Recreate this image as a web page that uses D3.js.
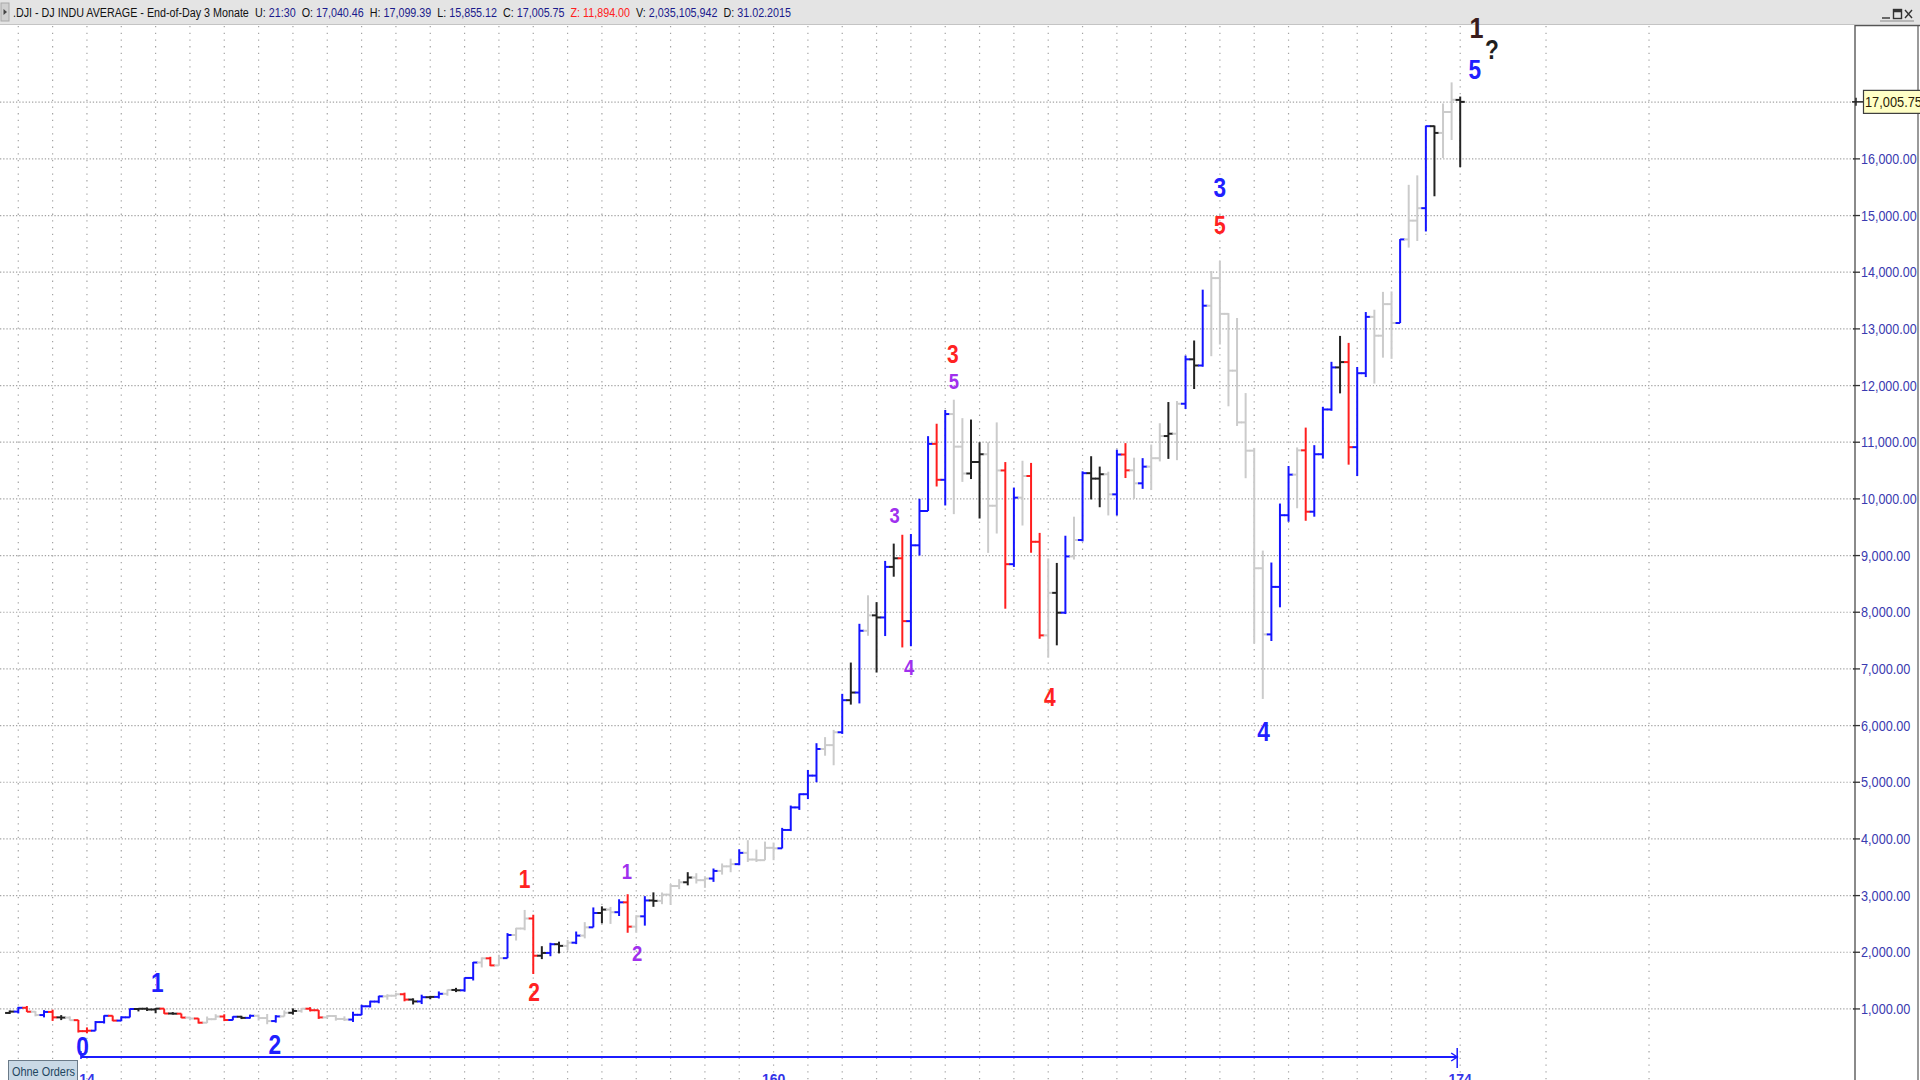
<!DOCTYPE html>
<html>
<head>
<meta charset="utf-8">
<title>.DJI 3 Monate</title>
<script src="https://cdn.jsdelivr.net/npm/d3@7/dist/d3.min.js"></script>
<style>
  html, body { margin: 0; padding: 0; background: #ffffff; overflow: hidden; }
  svg { display: block; }
</style>
</head>
<body>
<div id="chart"></div>
<script>
/** .DJI quarterly bars with wave count *******************/

// First visible bar is Q3 1972, last bar is Q4 2014 (still running)
var firstYear = 1972;
var firstQuarter = 3;

var opens = [
    929, 953, 1020, 951, 892, 947, 851, 847, 802, 608,
    616, 768, 879, 794, 852, 999, 1003, 990, 1005, 919,
    916, 847, 831, 757, 819, 866, 805, 862, 842, 879,
    839, 786, 868, 932, 964, 1004, 977, 850, 875, 823,
    812, 896, 1047, 1130, 1222, 1233, 1259, 1165, 1132, 1207,
    1212, 1267, 1335, 1329, 1547, 1819, 1893, 1768, 1896, 2305,
    2419, 2596, 1939, 1988, 2142, 2113, 2169, 2294, 2440, 2693,
    2753, 2707, 2881, 2452, 2634, 2914, 2907, 3017, 3169, 3235,
    3319, 3272, 3301, 3435, 3516, 3555, 3754, 3636, 3625, 3843,
    3834, 4158, 4556, 4789, 5117, 5587, 5655, 5882, 6448, 6583,
    7673, 7945, 7908, 8800, 8952, 7843, 9181, 9786, 10971, 10337,
    11497, 10922, 10448, 10651, 10788, 9879, 10502, 8848, 10022, 10404,
    9243, 7592, 8342, 7992, 8985, 9275, 10454, 10358, 10435, 10080,
    10783, 10504, 10275, 10569, 10718, 11109, 11150, 11679, 12463, 12354,
    13409, 13896, 13265, 12263, 11350, 10851, 8776, 7609, 8447, 9712,
    10428, 10857, 9774, 10788, 11578, 12320, 12414, 10913, 12218, 13212,
    12880, 13437, 13104, 14579, 14910, 15130, 16577, 16458, 16827, 17040.46
];
var highs = [
    973, 1036, 1052, 961, 978, 987, 891, 869, 806, 674,
    786, 888, 882, 870, 1009, 1016, 1026, 1015, 1005, 944,
    918, 862, 835, 866, 907, 906, 870, 879, 900, 900,
    911, 890, 975, 1010, 1016, 1031, 980, 892, 891, 869,
    951, 1073, 1145, 1232, 1260, 1287, 1287, 1187, 1251, 1230,
    1309, 1341, 1372, 1553, 1829, 1911, 1920, 1956, 2338, 2431,
    2747, 2662, 2107, 2167, 2187, 2218, 2366, 2531, 2791, 2810,
    2800, 2935, 3024, 2654, 2990, 3057, 3055, 3204, 3290, 3413,
    3395, 3341, 3478, 3567, 3652, 3818, 3978, 3811, 3953, 3936,
    4195, 4589, 4801, 5216, 5689, 5796, 5924, 6560, 7112, 7796,
    8299, 8178, 8906, 9211, 9367, 9380, 10002, 11107, 11326, 11569,
    11750, 11425, 11400, 11000, 11000, 11350, 10650, 10200, 10673, 10635,
    9400, 8950, 8870, 9350, 9686, 10487, 10753, 10570, 10480, 10868,
    10984, 10727, 10719, 10959, 11335, 11709, 11727, 12529, 12795, 13692,
    14021, 14198, 13279, 13192, 11867, 10900, 9088, 8877, 9918, 10580,
    10908, 11258, 10948, 11625, 12419, 12876, 12753, 12328, 13297, 13338,
    13653, 13661, 14585, 15542, 15709, 16588, 16588, 16978, 17350, 17099.39
];
var lows = [
    910, 921, 947, 869, 851, 788, 803, 795, 584, 570,
    616, 743, 784, 784, 850, 956, 964, 924, 913, 900,
    838, 800, 742, 750, 805, 785, 800, 821, 830, 796,
    730, 759, 866, 899, 934, 956, 824, 836, 793, 788,
    770, 891, 1027, 1100, 1163, 1220, 1134, 1079, 1086, 1171,
    1184, 1232, 1297, 1306, 1502, 1732, 1755, 1763, 1896, 2207,
    2388, 1616, 1879, 1930, 1980, 2038, 2144, 2245, 2440, 2510,
    2500, 2640, 2344, 2344, 2470, 2802, 2848, 2836, 3114, 3181,
    3213, 3136, 3242, 3370, 3412, 3536, 3593, 3593, 3624, 3625,
    3832, 4138, 4512, 4703, 5000, 5468, 5300, 5853, 6370, 6391,
    7585, 6936, 7580, 8627, 7379, 7400, 9000, 9786, 10219, 9884,
    9731, 10300, 10350, 9654, 9047, 9389, 8062, 8800, 9530, 9050,
    7532, 7197, 7416, 7968, 8930, 9250, 9990, 9853, 9708, 9708,
    10368, 10000, 10177, 10156, 10661, 10706, 10683, 11587, 11939, 12332,
    12518, 12724, 11634, 11287, 10365, 7449, 6470, 7492, 8087, 9597,
    9835, 9614, 9686, 10711, 11555, 11862, 10604, 10404, 12150, 12035,
    12492, 12471, 13104, 14434, 14551, 14719, 15340, 16015, 16333, 15855.12
];
var closes = [
    953, 1020, 951, 892, 947, 851, 847, 802, 608, 616,
    768, 879, 794, 852, 999, 1003, 990, 1005, 919, 916,
    847, 831, 757, 819, 866, 805, 862, 842, 879, 839,
    786, 868, 932, 964, 1004, 977, 850, 875, 823, 812,
    896, 1047, 1130, 1222, 1233, 1259, 1165, 1132, 1207, 1212,
    1267, 1335, 1329, 1547, 1819, 1893, 1768, 1896, 2305, 2419,
    2596, 1939, 1988, 2142, 2113, 2169, 2294, 2440, 2693, 2753,
    2707, 2881, 2452, 2634, 2914, 2907, 3017, 3169, 3235, 3319,
    3272, 3301, 3435, 3516, 3555, 3754, 3636, 3625, 3843, 3834,
    4158, 4556, 4789, 5117, 5587, 5655, 5882, 6448, 6583, 7673,
    7945, 7908, 8800, 8952, 7843, 9181, 9786, 10971, 10337, 11497,
    10922, 10448, 10651, 10788, 9879, 10502, 8848, 10022, 10404, 9243,
    7592, 8342, 7992, 8985, 9275, 10454, 10358, 10435, 10080, 10783,
    10504, 10275, 10569, 10718, 11109, 11150, 11679, 12463, 12354, 13409,
    13896, 13265, 12263, 11350, 10851, 8776, 7609, 8447, 9712, 10428,
    10857, 9774, 10788, 11578, 12320, 12414, 10913, 12218, 13212, 12880,
    13437, 13104, 14579, 14910, 15130, 16577, 16458, 16827, 17043, 17005.75
];
// B = blue, R = red, K = black, G = grey (one letter per bar)
var barColors = (
    "KBRGBRKGRR" + "BBRBBKKKRK" + "RGRGGRBKBG" + "GBGKGRRGGG" +
    "BBBBGGRKBK" + "BGKBBGRGBG" + "GRKBKGBGBK" + "GBRGBKGGGK" +
    "GGBGGBGGGG" + "BBBBBGGBKB" + "GKBKRBBBRB" + "GGKKGGRBGR" +
    "RGKBGBKKGB" + "RGBGGKGBKB" + "GGGGGGGBBB" + "GRBBBKRBBG" +
    "GGBGGBKGGK"
).split("");

// Price axis
var yTicks = [1000, 2000, 3000, 4000, 5000, 6000, 7000, 8000,
              9000, 10000, 11000, 12000, 13000, 14000, 15000, 16000];
var gridValues = yTicks.concat([17000]);
var lastPrice = 17005.75;

// Bar counter of the measuring line (start bar, end bar)
var measureBars = [9, 169];
var measureLabels = ["14", "160", "174"];

// Wave count: text, bar position, price level, degree
var waveText   = ["0", "1", "2", "1", "2", "1", "2", "3", "4", "3", "5", "4", "3", "5", "4", "5", "1", "?"];
var waveBar    = [8.5, 17.2, 30.9, 60.0, 61.1, 71.9, 73.1, 103.1, 104.8, 109.9, 110.0, 121.2, 141.0, 141.0, 146.1, 170.7, 170.9, 172.7];
var waveValue  = [345, 1475, 381, 3293, 1299, 3434, 1987, 9716, 7034, 12552, 12076, 6505, 15504, 14834, 5905, 17587, 18330, 17939];
var waveDegree = ["cycle", "cycle", "cycle", "primary", "primary", "minor", "minor", "minor", "minor", "primary", "minor",
                  "primary", "cycle", "primary", "cycle", "cycle", "super", "mark"];

// Header
var headerParts = [
    [".DJI - DJ INDU AVERAGE - End-of-Day 3 Monate", "k"], ["U:", "k"], ["21:30", "v"],
    ["O:", "k"], ["17,040.46", "v"],
    ["H:", "k"], ["17,099.39", "v"],
    ["L:", "k"], ["15,855.12", "v"],
    ["C:", "k"], ["17,005.75", "v"],
    ["Z:", "z"], ["11,894.00", "z"],
    ["V:", "k"], ["2,035,105,942", "v"],
    ["D:", "k"], ["31.02.2015", "v"]
];

//**************************************************/

var width = 1920;
var height = 1080;
var panelX = 1855;
var tickLen = 4.6;

var colorMap = { B: "#1414ff", R: "#ff1e1e", K: "#232323", G: "#cbcbcb" };
var degreeStyle = {
    cycle:   { color: "#2020ff", size: 27 },
    primary: { color: "#ff2222", size: 25 },
    minor:   { color: "#a030ee", size: 22 },
    super:   { color: "#3a1c1c", size: 30 },
    mark:    { color: "#1e1e1e", size: 27 }
};

var x = d3.scaleLinear().domain([0, closes.length - 1]).range([9.7, 1460.2]);
var y = d3.scaleLinear().domain([0, 17000]).range([1065.6, 102.2]);

var svg = d3.select("#chart").append("svg")
    .attr("width", width)
    .attr("height", height)
    .style("font-family", "'Liberation Sans', Arial, sans-serif");

svg.append("rect").attr("width", width).attr("height", height).attr("fill", "#ffffff");

// Vertical grid: one line on every Q4 bar, then the chart's future area
var gridBars = d3.range(closes.length).filter(function(i) { return (i + firstQuarter - 1) % 4 === 3; });
var gridXs = gridBars.map(function(i) { return x(i); });
var step = x(4) - x(0);
gridXs.push(x(closes.length - 1) + step * 2.5, x(closes.length - 1) + step * 5.5);

var grid = svg.append("g").attr("class", "grid");
grid.selectAll(".vgrid").data(gridXs).enter().append("line")
    .attr("x1", function(d) { return d; })
    .attr("x2", function(d) { return d; })
    .attr("y1", 26).attr("y2", height)
    .style("stroke", "#a4a4a4")
    .style("stroke-width", 1.2)
    .style("stroke-dasharray", "1.3,5.4");

grid.selectAll(".hgrid").data(gridValues).enter().append("line")
    .attr("x1", 0).attr("x2", panelX)
    .attr("y1", function(d) { return y(d); })
    .attr("y2", function(d) { return y(d); })
    .style("stroke", "#a4a4a4")
    .style("stroke-width", 1.2)
    .style("stroke-dasharray", "1.3,1.9");

// Bars
var bar = svg.append("g").attr("class", "bars")
    .selectAll(".bar")
    .data(d3.range(closes.length))
  .enter().append("g")
    .attr("class", "bar")
    .style("stroke", function(i) { return colorMap[barColors[i]]; })
    .style("stroke-width", 2);

bar.append("line")
    .attr("x1", function(i) { return x(i); })
    .attr("x2", function(i) { return x(i); })
    .attr("y1", function(i) { return y(highs[i]); })
    .attr("y2", function(i) { return y(lows[i]); });

bar.append("line")
    .attr("x1", function(i) { return x(i) - tickLen; })
    .attr("x2", function(i) { return x(i); })
    .attr("y1", function(i) { return y(opens[i]); })
    .attr("y2", function(i) { return y(opens[i]); });

bar.append("line")
    .attr("x1", function(i) { return x(i); })
    .attr("x2", function(i) { return x(i) + tickLen; })
    .attr("y1", function(i) { return y(closes[i]); })
    .attr("y2", function(i) { return y(closes[i]); });

// Measuring line
var measureY = 1057;
var mx0 = x(measureBars[0]), mx1 = x(measureBars[1]);
var measure = svg.append("g").style("stroke", "#1c1cff").style("fill", "none");
measure.append("line").attr("x1", mx0 - 6).attr("x2", mx1 - 3)
    .attr("y1", measureY).attr("y2", measureY).style("stroke-width", 2.2);
measure.append("line").attr("x1", mx0 - 6).attr("x2", mx0 - 6)
    .attr("y1", measureY - 6).attr("y2", measureY + 2).style("stroke-width", 1.5);
measure.append("path")
    .attr("d", "M" + (mx1 - 9) + "," + (measureY - 4) + "L" + (mx1 - 3) + "," + measureY + "L" + (mx1 - 9) + "," + (measureY + 4))
    .style("stroke-width", 1.5);
measure.append("line").attr("x1", mx1 - 3).attr("x2", mx1 - 3)
    .attr("y1", measureY - 9).attr("y2", measureY + 11).style("stroke-width", 1.5);

var measureXs = [mx0, (mx0 + mx1) / 2, mx1];
svg.selectAll(".mlabel").data(measureLabels).enter().append("text")
    .attr("x", function(d, i) { return measureXs[i]; })
    .attr("y", 1084)
    .attr("text-anchor", "middle")
    .style("font-size", "14px")
    .style("font-weight", "bold")
    .style("fill", "#3434e8")
    .text(function(d) { return d; });

// "Ohne Orders" box
svg.append("rect").attr("x", 8.5).attr("y", 1060.5).attr("width", 69).attr("height", 22)
    .style("fill", "#c9d9e6").style("stroke", "#6a7a88");
svg.append("text").attr("x", 12).attr("y", 1076)
    .attr("textLength", 63).attr("lengthAdjust", "spacingAndGlyphs")
    .style("font-size", "13px").style("fill", "#1e4660")
    .text("Ohne Orders");

// Price panel
var panel = svg.append("g").attr("class", "panel");
panel.append("rect").attr("x", panelX).attr("y", 25).attr("width", width - panelX).attr("height", height - 25)
    .style("fill", "#ffffff");
panel.append("line").attr("x1", panelX).attr("x2", panelX).attr("y1", 25).attr("y2", height)
    .style("stroke", "#8a8a8a").style("stroke-width", 2);
panel.append("line").attr("x1", width - 2).attr("x2", width - 2).attr("y1", 25).attr("y2", height)
    .style("stroke", "#9a9a9a").style("stroke-width", 2);
panel.append("line").attr("x1", panelX).attr("x2", width).attr("y1", 25.5).attr("y2", 25.5)
    .style("stroke", "#555555").style("stroke-width", 1.5);

panel.selectAll(".ytick").data(yTicks).enter().append("line")
    .attr("x1", panelX - 2).attr("x2", panelX + 5)
    .attr("y1", function(d) { return y(d); })
    .attr("y2", function(d) { return y(d); })
    .style("stroke", "#333333").style("stroke-width", 1.3);

var fmt = d3.format(",.2f");
panel.selectAll(".ylabel").data(yTicks).enter().append("text")
    .attr("x", panelX + 6)
    .attr("y", function(d) { return y(d) + 5; })
    .attr("textLength", function(d) { return fmt(d).length * 6.3 - 1; })
    .attr("lengthAdjust", "spacingAndGlyphs")
    .style("font-size", "14.5px")
    .style("fill", "#3a3ab0")
    .text(function(d) { return fmt(d); });

// Last price box
var ly = y(lastPrice);
panel.append("line").attr("x1", panelX - 3).attr("x2", panelX + 8).attr("y1", ly).attr("y2", ly)
    .style("stroke", "#222222").style("stroke-width", 1.5);
panel.append("line").attr("x1", panelX + 1).attr("x2", panelX + 1).attr("y1", ly - 4).attr("y2", ly + 4)
    .style("stroke", "#222222").style("stroke-width", 1.5);
panel.append("rect").attr("x", panelX + 8.5).attr("y", ly - 11.5).attr("width", 70).attr("height", 23)
    .style("fill", "#ffffc6").style("stroke", "#3c3c3c").style("stroke-width", 1.2);
panel.append("text").attr("x", panelX + 10).attr("y", ly + 5.5)
    .attr("textLength", 57).attr("lengthAdjust", "spacingAndGlyphs")
    .style("font-size", "14.5px").style("fill", "#2a1c08")
    .text(fmt(lastPrice));

// Header bar
var header = svg.append("g").attr("class", "header");
header.append("rect").attr("width", width).attr("height", 25).style("fill", "#e4e4e4");
header.append("line").attr("x1", 0).attr("x2", width).attr("y1", 24.5).attr("y2", 24.5)
    .style("stroke", "#c4c4c4");
header.append("rect").attr("x", 1).attr("y", 3).attr("width", 8).attr("height", 18)
    .style("fill", "#d0d0d0").style("stroke", "#a8a8a8");
header.append("path").attr("d", "M3.5,9L7,12L3.5,15Z").style("fill", "#444444");

// header items laid out one after another, then squeezed to the reference width
var headColor = { k: "#111111", v: "#1a1a8c", z: "#ff2020" };
var headRow = header.append("g");
var headItems = headRow.selectAll("text")
    .data(headerParts)
  .enter().append("text")
    .attr("y", 17)
    .style("font-size", "12.5px")
    .style("fill", function(d) { return headColor[d[1]]; })
    .text(function(d) { return d[0]; });
var cursor = 0;
headItems.each(function(d, i) {
    d3.select(this).attr("x", cursor);
    var gap = (d[1] === "k" || (d[1] === "z" && d[0] === "Z:")) && d[0].length <= 2 ? 3.5 : 7;
    cursor += this.getComputedTextLength() + gap;
});
var headWidth = cursor - 7;
headRow.attr("transform", "translate(13,0) scale(" + (778 / headWidth) + ",1)");

// Window buttons
var btn = header.append("g").style("stroke", "#333333").style("fill", "none").style("stroke-width", 1.4);
btn.append("line").attr("x1", 1882).attr("x2", 1890).attr("y1", 18).attr("y2", 18);
btn.append("rect").attr("x", 1893.5).attr("y", 9.5).attr("width", 8).attr("height", 9);
btn.append("line").attr("x1", 1893.5).attr("x2", 1901.5).attr("y1", 11).attr("y2", 11).style("stroke-width", 2.5);
btn.append("path").attr("d", "M1905,10L1912,18M1912,10L1905,18");
btn.append("line").attr("x1", 1880).attr("x2", 1914).attr("y1", 21).attr("y2", 21).style("stroke", "#888888").style("stroke-width", 1);

// Wave labels, drawn last so the top count sits over the title bar
svg.append("g").attr("class", "waves")
    .selectAll("text")
    .data(d3.range(waveText.length))
  .enter().append("text")
    .attr("transform", function(i) {
        return "translate(" + x(waveBar[i]) + "," + y(waveValue[i]) + ") scale(0.84,1)";
    })
    .attr("text-anchor", "middle")
    .attr("dy", "0.36em")
    .style("font-weight", "bold")
    .style("font-size", function(i) { return degreeStyle[waveDegree[i]].size + "px"; })
    .style("fill", function(i) { return degreeStyle[waveDegree[i]].color; })
    .text(function(i) { return waveText[i]; });
</script>
</body>
</html>
